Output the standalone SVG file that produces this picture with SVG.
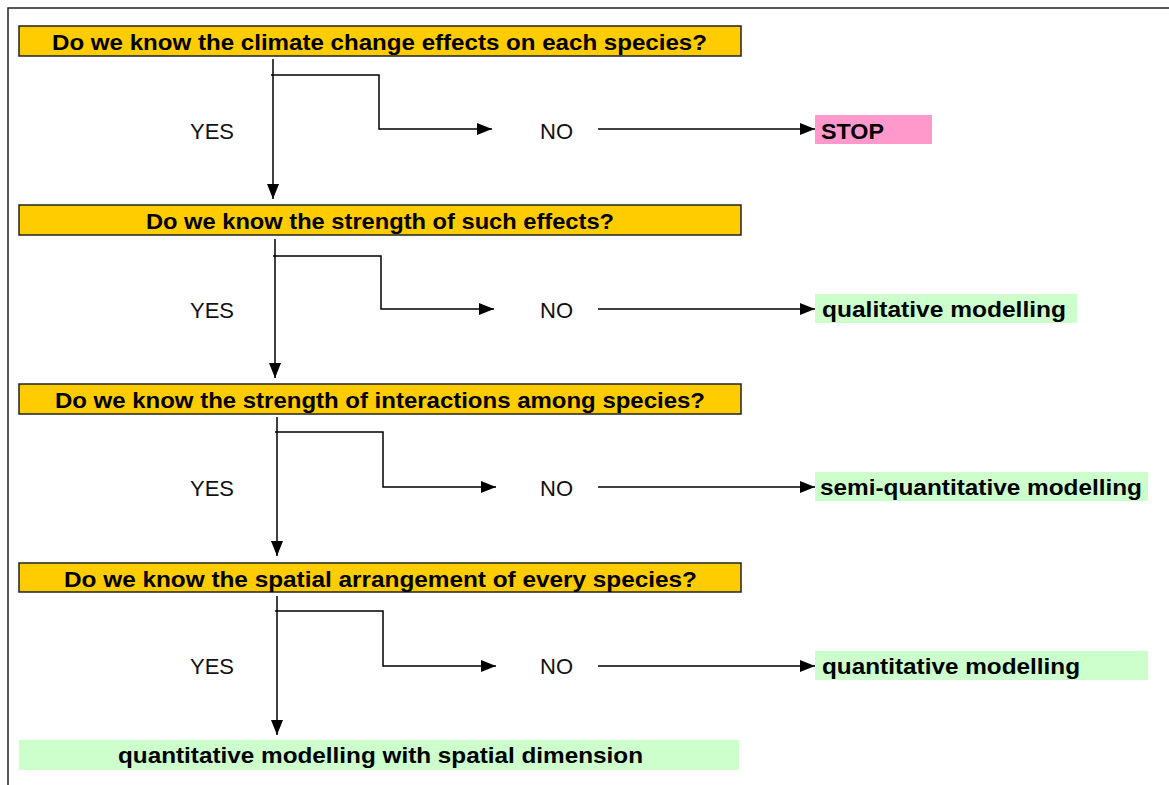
<svg xmlns="http://www.w3.org/2000/svg" width="1169" height="785" viewBox="0 0 1169 785">
<style>
.q{fill:#FFCC00;stroke:#222;stroke-width:1.5}
.g{fill:#CCFFCC}
.p{fill:#FF99CC}
.b{font-family:"Liberation Sans",Arial,sans-serif;font-weight:bold;font-size:22px;fill:#000}
.n{font-family:"Liberation Sans",Arial,sans-serif;font-size:22px;fill:#111}
.c{fill:none;stroke:#000;stroke-width:1.5}
</style>
<defs>
<marker id="ah" markerUnits="userSpaceOnUse" markerWidth="16" markerHeight="14" refX="15" refY="6" orient="auto">
<path d="M0,0 L15,6 L0,12 Z" fill="#000"/>
</marker>
</defs>
<rect width="1169" height="785" fill="#fff"/>
<path d="M8,785 V8 H1169" fill="none" stroke="#222" stroke-width="1.5"/>

<g id="q1"><rect class="q" x="19" y="26" width="722" height="30"/><text class="b" x="52" y="50" textLength="655" lengthAdjust="spacingAndGlyphs">Do we know the climate change effects on each species?</text></g>
<g id="q2"><rect class="q" x="19" y="205" width="722" height="30"/><text class="b" x="146" y="229" textLength="468" lengthAdjust="spacingAndGlyphs">Do we know the strength of such effects?</text></g>
<g id="q3"><rect class="q" x="19" y="384" width="722" height="30"/><text class="b" x="55" y="408" textLength="650" lengthAdjust="spacingAndGlyphs">Do we know the strength of interactions among species?</text></g>
<g id="q4"><rect class="q" x="19" y="563" width="722" height="29"/><text class="b" x="64" y="587" textLength="633" lengthAdjust="spacingAndGlyphs">Do we know the spatial arrangement of every species?</text></g>

<g id="stop"><rect class="p" x="815" y="115" width="117" height="29"/><text class="b" x="821" y="139" textLength="63" lengthAdjust="spacingAndGlyphs">STOP</text></g>
<g id="qual"><rect class="g" x="815" y="294" width="262" height="29"/><text class="b" x="822" y="317" textLength="244" lengthAdjust="spacingAndGlyphs">qualitative modelling</text></g>
<g id="semi"><rect class="g" x="815" y="472" width="333" height="29"/><text class="b" x="820" y="495" textLength="322" lengthAdjust="spacingAndGlyphs">semi-quantitative modelling</text></g>
<g id="quant"><rect class="g" x="815" y="651" width="333" height="29"/><text class="b" x="822" y="674" textLength="258" lengthAdjust="spacingAndGlyphs">quantitative modelling</text></g>
<g id="spatial"><rect class="g" x="19" y="740" width="720" height="30"/><text class="b" x="118" y="763" textLength="525" lengthAdjust="spacingAndGlyphs">quantitative modelling with spatial dimension</text></g>

<g id="labels">
<text class="n" x="190" y="139">YES</text><text class="n" x="540" y="139">NO</text>
<text class="n" x="190" y="318">YES</text><text class="n" x="540" y="318">NO</text>
<text class="n" x="190" y="496">YES</text><text class="n" x="540" y="496">NO</text>
<text class="n" x="190" y="674">YES</text><text class="n" x="540" y="674">NO</text>
</g>

<g id="connectors">
<path class="c" d="M273,59 V199" marker-end="url(#ah)"/>
<path class="c" d="M271,75 H379 V129 H492" marker-end="url(#ah)"/>
<path class="c" d="M598,129 H815" marker-end="url(#ah)"/>

<path class="c" d="M275,239 V378" marker-end="url(#ah)"/>
<path class="c" d="M273,256 H381 V309 H494" marker-end="url(#ah)"/>
<path class="c" d="M598,309 H815" marker-end="url(#ah)"/>

<path class="c" d="M277,417 V556" marker-end="url(#ah)"/>
<path class="c" d="M275,432 H383 V487 H496" marker-end="url(#ah)"/>
<path class="c" d="M598,487 H815" marker-end="url(#ah)"/>

<path class="c" d="M277,596 V735" marker-end="url(#ah)"/>
<path class="c" d="M275,611 H383 V666 H496" marker-end="url(#ah)"/>
<path class="c" d="M598,666 H815" marker-end="url(#ah)"/>
</g>
</svg>
